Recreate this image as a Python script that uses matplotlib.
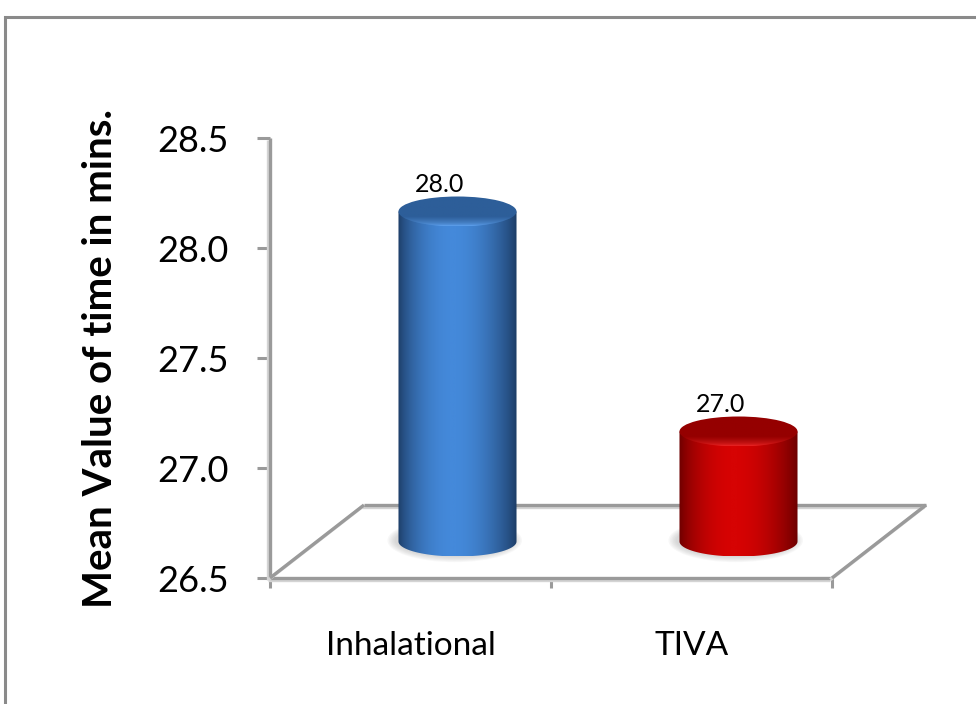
import numpy as np
import matplotlib
matplotlib.use("Agg")
import matplotlib.pyplot as plt
import matplotlib.transforms as mtransforms
import matplotlib.patheffects as pe
from matplotlib.patches import Ellipse, Polygon, Rectangle
from matplotlib.colors import LinearSegmentedColormap

plt.rcParams['font.family'] = ['Lato', 'DejaVu Sans']

groups = ['Inhalational', 'TIVA']
means = [28.0, 27.0]
yticks = [26.5, 27.0, 27.5, 28.0, 28.5]
ymin, ymax = 26.5, 28.5

# side shade, centre highlight, top face, front rim of the top
palettes = [
    ('#1c3b64', '#4489da', '#2d5e99', '#5ea2f0'),
    ('#6a0000', '#d60303', '#950000', '#ee2424'),
]

fig = plt.figure(figsize=(9.76, 7.04), dpi=100)
W, H = 976, 704
ax = fig.add_axes([270 / W, (H - 578) / H, 562 / W, 440 / H])
ax.set_xlim(0, 2)
ax.set_ylim(ymin, ymax)
ax.set_autoscale_on(False)
for s in ax.spines.values():
    s.set_visible(False)
ax.patch.set_visible(False)

# outer chart border
fig.patches.append(Rectangle((5 / W, -0.1), 1.2, (H - 17) / H + 0.1,
                             transform=fig.transFigure, fill=False,
                             edgecolor='#8a8a8a', linewidth=2.2))

depth = (94, 73)  # floor depth in pixels
half = mtransforms.ScaledTranslation(depth[0] / 200, depth[1] / 200, fig.dpi_scale_trans)
back = mtransforms.ScaledTranslation(depth[0] / 100, depth[1] / 100, fig.dpi_scale_trans)
mid = ax.transData + half
rear = ax.transData + back

line_fx = [pe.SimpleLineShadow(offset=(-1.2, -1.2), shadow_color='#d4d4d4', alpha=1),
           pe.Normal()]
gkw = dict(color='#9a9a9a', linewidth=2.4, solid_capstyle='butt',
           path_effects=line_fx, clip_on=False)

# y axis with ticks
ax.plot([0, 0], [ymin, ymax], **gkw)
ax.set_yticks(yticks)
ax.set_yticklabels([f'{t:.1f}' for t in yticks], fontsize=26)
ax.tick_params(axis='y', length=9.5, width=2.2, color='#9a9a9a', pad=20)

# floor: front edge, back edge, side edges
ax.plot([0, 2], [ymin, ymin], **gkw)
ax.plot([0, 2], [ymin, ymin], transform=rear, **gkw)
for xe in (0, 2):
    p0 = ax.transData.transform((xe, ymin))
    p1 = rear.transform((xe, ymin))
    ax.plot([p0[0], p1[0]], [p0[1], p1[1]], transform=None, **gkw)

ax.set_xticks([0, 1, 2])
ax.set_xticklabels([])
ax.set_xticks([0.5, 1.5], minor=True)
ax.set_xticklabels(groups, minor=True, fontsize=24)
ax.tick_params(axis='x', which='major', length=7.5, width=2.2, color='#9a9a9a')
ax.tick_params(axis='x', which='minor', length=0, pad=38)

ax.set_ylabel('Mean Value of time in mins.', fontsize=29, fontweight='bold',
               labelpad=28)

bw = 0.42          # cylinder width in data units
eh = 30 / 220      # ellipse height in data units (30 px)
t = np.linspace(np.pi, 2 * np.pi, 80)

for i, (g, v) in enumerate(zip(groups, means)):
    xc = i + 0.5
    dark, light, top, rim = palettes[i]
    x0, x1 = xc - bw / 2, xc + bw / 2

    # soft grey halo round the base
    for k in range(6):
        ax.add_patch(Ellipse((xc - 0.01, ymin + 0.005), bw * (1.14 - 0.025 * k),
                             eh * (1.45 - 0.07 * k), transform=mid,
                             facecolor='#9a9a9a', edgecolor='none', alpha=0.07,
                             zorder=2))

    # body with horizontal shading
    cmap = LinearSegmentedColormap.from_list('c', [dark, light])
    grad = np.linspace(0, 1, 256)
    shade = np.sin(np.pi * grad ** 0.9) ** 0.8
    img = ax.imshow(shade[None, :], extent=[x0, x1, ymin - eh / 2, v],
                    aspect='auto', cmap=cmap, vmin=0, vmax=1, transform=mid,
                    zorder=3, interpolation='bilinear')
    body = [(xc + bw / 2 * np.cos(a), ymin + eh / 2 * np.sin(a)) for a in t]
    body += [(x1, v), (x0, v)]
    clip = Polygon(body, closed=True, transform=mid, facecolor='none',
                   edgecolor='none')
    ax.add_patch(clip)
    img.set_clip_path(clip)

    # top face: dark back, lighter front rim
    tcmap = LinearSegmentedColormap.from_list('t', [rim, top, top])
    timg = ax.imshow(np.linspace(0, 1, 64)[:, None] ** 0.6,
                     extent=[x0, x1, v - eh / 2, v + eh / 2],
                     origin='lower', aspect='auto', cmap=tcmap,
                     transform=mid, zorder=4, interpolation='bilinear')
    cap = Ellipse((xc, v), bw, eh, transform=mid, facecolor='none',
                  edgecolor='none')
    ax.add_patch(cap)
    timg.set_clip_path(cap)

    # value label
    lab = ax.transData + mtransforms.ScaledTranslation(
        (depth[0] / 2 - 18) / 100, (depth[1] / 2 + 27) / 100, fig.dpi_scale_trans)
    ax.text(xc, v, f'{v:.1f}', transform=lab, ha='center', va='center',
            fontsize=18, zorder=6)

ax.set_xlim(0, 2)
ax.set_ylim(ymin, ymax)

fig.savefig('out.png', dpi=100, facecolor='white')
